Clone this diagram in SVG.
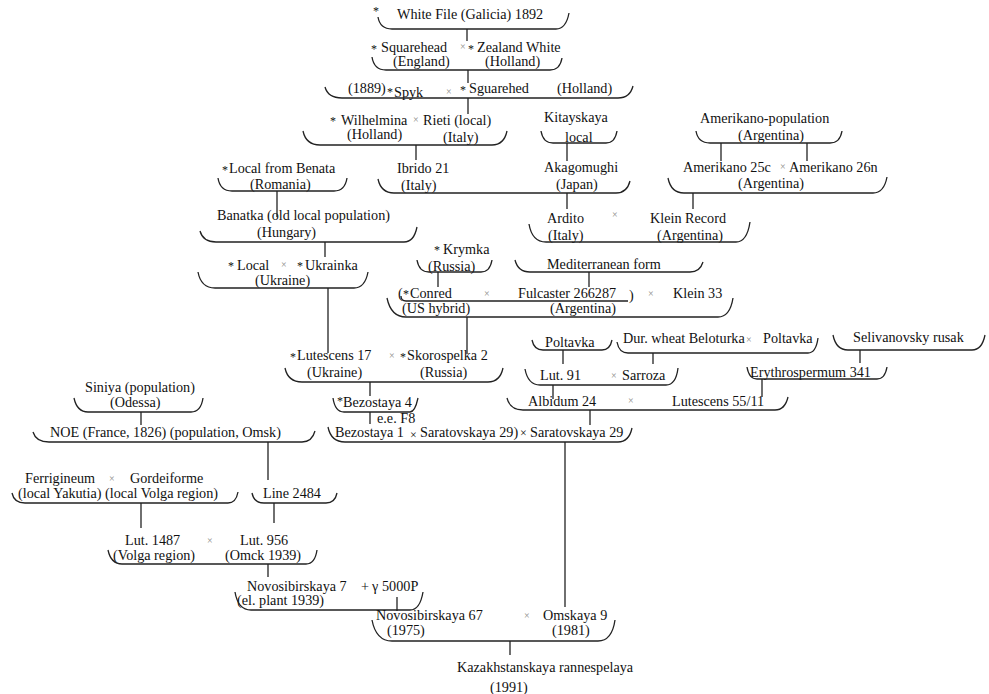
<svg xmlns="http://www.w3.org/2000/svg" width="989" height="694" viewBox="0 0 989 694">
<style>
text{font-family:"Liberation Serif","Times New Roman",serif;font-size:14.2px;fill:#111}
.x{font-size:10px;fill:#888}
.xb{font-size:12px;fill:#111}
.st{font-size:12px}
.br{fill:none;stroke:#222;stroke-width:1.3}
.cn line{stroke:#222;stroke-width:1.3}
</style>
<rect width="989" height="694" fill="#fff"/>

<g id="n-whitefile">
<text class="st" x="373" y="15">*</text><text x="397" y="19">White File (Galicia) 1892</text>
<path class="br" d="M378,17 Q380,29 392,29 L556,29 Q566,29 569,13"/>
</g>
<g id="n-squarehead">
<text class="st" x="371" y="53">*</text><text x="381" y="52">Squarehead</text><text class="x" x="460" y="50">×</text><text class="st" x="468" y="53">*</text><text x="477" y="52">Zealand White</text>
<text x="393" y="66">(England)</text><text x="485" y="66">(Holland)</text>
<path class="br" d="M372,57 Q374,70 386,70 L550,70 Q560,70 562,58"/>
</g>
<g id="n-spyk">
<text x="348" y="93">(1889)</text><text class="st" x="387" y="96">*</text><text x="394" y="97">Spyk</text><text class="x" x="446" y="95">×</text><text class="st" x="460" y="94">*</text><text x="469" y="93">Sguarehed</text><text x="557" y="93">(Holland)</text>
<path class="br" d="M325,87 Q328,98 342,98 L618,98 Q630,98 633,86"/>
</g>
<g id="n-wilhelmina">
<text class="st" x="330" y="125">*</text><text x="341" y="125">Wilhelmina</text><text class="x" x="413" y="123">×</text><text x="423" y="125">Rieti (local)</text>
<text x="347" y="139">(Holland)</text><text x="443" y="142">(Italy)</text>
<path class="br" d="M303,131 Q306,145 320,145 L492,145 Q504,145 507,131"/>
</g>
<g id="n-kitayskaya">
<text x="544" y="122">Kitayskaya</text><text x="565" y="142">local</text>
<path class="br" d="M541,131 Q543,143 553,143 L606,143 Q615,143 617,131"/>
</g>
<g id="n-amerikano-pop">
<text x="700" y="123">Amerikano-population</text><text x="738" y="140">(Argentina)</text>
<path class="br" d="M696,131 Q698,143 710,143 L830,143 Q840,143 842,131"/>
</g>
<g id="n-benata">
<text class="st" x="222" y="174">*</text><text x="229" y="173">Local from Benata</text><text x="250" y="189">(Romania)</text>
<path class="br" d="M218,178 Q220,191 232,191 L334,191 Q345,191 347,178"/>
</g>
<g id="n-ibrido-akagomughi">
<text x="397" y="173">Ibrido 21</text><text x="401" y="190">(Italy)</text>
<text x="544" y="172">Akagomughi</text><text x="556" y="189">(Japan)</text>
<path class="br" d="M378,179 Q381,193 394,193 L616,193 Q627,193 630,181"/>
</g>
<g id="n-amerikano25c">
<text x="683" y="172">Amerikano 25c</text><text class="x" x="780" y="170">×</text><text x="789" y="172">Amerikano 26n</text><text x="738" y="188">(Argentina)</text>
<path class="br" d="M668,178 Q671,193 684,193 L873,193 Q884,193 887,177"/>
</g>
<g id="n-banatka">
<text x="217" y="220">Banatka (old local population)</text><text x="257" y="237">(Hungary)</text>
<path class="br" d="M200,231 Q203,242 216,242 L404,242 Q414,242 417,227"/>
</g>
<g id="n-ardito">
<text x="547" y="223">Ardito</text><text class="x" x="612" y="218">×</text><text x="650" y="223">Klein Record</text>
<text x="548" y="240">(Italy)</text><text x="657" y="240">(Argentina)</text>
<path class="br" d="M529,224 Q532,242 546,242 L736,242 Q747,242 750,222"/>
</g>
<g id="n-local-ukrainka">
<text class="st" x="228" y="270">*</text><text x="237" y="270">Local</text><text class="x" x="281" y="268">×</text><text class="st" x="297" y="270">*</text><text x="305" y="270">Ukrainka</text>
<text x="255" y="285">(Ukraine)</text>
<path class="br" d="M198,272 Q201,288 215,288 L354,288 Q365,288 368,272"/>
</g>
<g id="n-krymka">
<text class="st" x="434" y="254">*</text><text x="443" y="254">Krymka</text><text x="428" y="271">(Russia)</text>
<path class="br" d="M417,260 Q419,272 429,272 L481,272 Q490,272 492,260"/>
</g>
<g id="n-mediterranean">
<text x="547" y="269">Mediterranean form</text>
<path class="br" d="M515,260 Q518,272 530,272 L690,272 Q700,272 703,262"/>
</g>
<g id="n-conred">
<text x="398" y="298">(</text><text class="st" x="403" y="298">*</text><text x="410" y="298">Conred</text><text class="x" x="484" y="297">×</text><text x="518" y="298">Fulcaster 266287</text><text x="629" y="300">)</text><text class="x" x="648" y="297">×</text><text x="673" y="298">Klein 33</text>
<text x="402" y="313">(US hybrid)</text><text x="550" y="313">(Argentina)</text>
<path class="br" d="M401,296 Q401,301 406,301 L628,301"/>
<path class="br" d="M387,298 Q391,317 406,317 L718,317 Q730,317 733,298"/>
</g>
<g id="n-lutescens17">
<text class="st" x="290" y="361">*</text><text x="297" y="360">Lutescens 17</text><text class="x" x="389" y="359">×</text><text class="st" x="400" y="361">*</text><text x="407" y="360">Skorospelka 2</text>
<text x="307" y="377">(Ukraine)</text><text x="420" y="377">(Russia)</text>
<path class="br" d="M285,368 Q288,382 302,382 L488,382 Q500,382 503,368"/>
</g>
<g id="n-poltavka">
<text x="545" y="347">Poltavka</text>
<path class="br" d="M532,340 Q534,350 543,350 L602,350 Q610,350 612,340"/>
</g>
<g id="n-durwheat">
<text x="623" y="343">Dur. wheat Beloturka</text><text class="x" x="746" y="343">×</text><text x="763" y="343">Poltavka</text>
<path class="br" d="M617,342 Q619,353 628,353 L808,353 Q816,353 818,338"/>
</g>
<g id="n-selivanovsky">
<text x="853" y="342">Selivanovsky rusak</text>
<path class="br" d="M833,335 Q836,350 848,350 L972,350 Q982,350 985,335"/>
</g>
<g id="n-lut91">
<text x="540" y="380">Lut. 91</text><text class="x" x="611" y="379">×</text><text x="622" y="380">Sarroza</text>
<path class="br" d="M525,369 Q528,385 540,385 L666,385 Q676,385 678,368"/>
</g>
<g id="n-erythrospermum">
<text x="750" y="377">Erythrospermum 341</text>
<path class="br" d="M747,367 Q749,379 757,379 L877,379 Q885,379 887,367"/>
</g>
<g id="n-siniya">
<text x="85" y="392">Siniya (population)</text><text x="110" y="407">(Odessa)</text>
<path class="br" d="M74,398 Q77,412 88,412 L191,412 Q201,412 203,398"/>
</g>
<g id="n-bezostaya4">
<text class="st" x="337" y="405">*</text><text x="343" y="407">Bezostaya 4</text>
<text x="377" y="423">e.e. F8</text>
<path class="br" d="M333,398 Q335,412 344,412 L410,412 Q415,412 418,398"/>
</g>
<g id="n-albidum">
<text x="528" y="406">Albidum 24</text><text class="x" x="628" y="404">×</text><text x="672" y="406">Lutescens 55/11</text>
<path class="br" d="M507,398 Q510,410 523,410 L775,410 Q785,410 788,397"/>
</g>
<g id="n-noe">
<text x="50" y="437">NOE (France, 1826) (population, Omsk)</text>
<path class="br" d="M33,432 Q36,442 49,442 L302,442 Q312,442 315,431"/>
</g>
<g id="n-bezostaya1">
<text x="335" y="437">Bezostaya 1</text><text class="xb" x="410" y="439">×</text><text x="420" y="437">Saratovskaya 29)</text><text class="xb" x="520" y="437">×</text><text x="530" y="437">Saratovskaya 29</text>
<path class="br" d="M328,427 Q331,442 345,442 L618,442 Q629,442 632,428"/>
</g>
<g id="n-ferrigineum">
<text x="25" y="483">Ferrigineum</text><text class="x" x="109" y="482">×</text><text x="130" y="483">Gordeiforme</text>
<text x="18" y="498">(local Yakutia) (local Volga region)</text>
<path class="br" d="M12,493 Q14,503 25,503 L228,503 Q236,503 238,492"/>
</g>
<g id="n-line2484">
<text x="263" y="498">Line 2484</text>
<path class="br" d="M252,493 Q254,503 264,503 L326,503 Q335,503 337,493"/>
</g>
<g id="n-lut1487">
<text x="125" y="545">Lut. 1487</text><text class="x" x="207" y="544">×</text><text x="240" y="545">Lut. 956</text>
<text x="113" y="560">(Volga region)</text><text x="225" y="560">(Omck 1939)</text>
<path class="br" d="M108,550 Q111,564 122,564 L306,564 Q315,564 317,550"/>
</g>
<g id="n-novosibirskaya7">
<text x="247" y="591">Novosibirskaya 7</text><text x="361" y="591">+</text><text x="372" y="591">γ</text><text x="382" y="591">5000P</text>
<text x="237" y="605">(el. plant 1939)</text>
<path class="br" d="M235,592 Q238,610 251,610 L410,610 Q420,610 423,592"/>
</g>
<g id="n-novosibirskaya67">
<text x="376" y="620">Novosibirskaya 67</text><text class="x" x="524" y="619">×</text><text x="543" y="620">Omskaya 9</text>
<text x="387" y="635">(1975)</text><text x="552" y="635">(1981)</text>
<path class="br" d="M372,620 Q376,641 392,641 L598,641 Q612,641 615,620"/>
</g>
<g id="n-kazakhstanskaya">
<text x="457" y="672">Kazakhstanskaya rannespelaya</text>
<text x="490" y="692">(1991)</text>
</g>

<g id="connectors" class="cn">
<line x1="467" y1="29" x2="467" y2="41"/>
<line x1="468" y1="70" x2="468" y2="83"/>
<line x1="468" y1="98" x2="468" y2="114"/>
<line x1="416" y1="145" x2="416" y2="160"/>
<line x1="567" y1="143" x2="567" y2="161"/>
<line x1="721" y1="143" x2="721" y2="161"/>
<line x1="807" y1="143" x2="807" y2="161"/>
<line x1="277" y1="191" x2="277" y2="217"/>
<line x1="567" y1="193" x2="567" y2="209"/>
<line x1="693" y1="193" x2="693" y2="209"/>
<line x1="325" y1="242" x2="325" y2="257"/>
<line x1="438" y1="272" x2="438" y2="287"/>
<line x1="589" y1="272" x2="589" y2="287"/>
<line x1="328" y1="288" x2="328" y2="353"/>
<line x1="467" y1="317" x2="467" y2="354"/>
<line x1="370" y1="382" x2="370" y2="396"/>
<line x1="563" y1="350" x2="563" y2="364"/>
<line x1="653" y1="353" x2="653" y2="364"/>
<line x1="860" y1="350" x2="860" y2="363"/>
<line x1="553" y1="385" x2="553" y2="399"/>
<line x1="762" y1="379" x2="762" y2="397"/>
<line x1="141" y1="412" x2="141" y2="425"/>
<line x1="370" y1="412" x2="370" y2="424"/>
<line x1="590" y1="410" x2="590" y2="425"/>
<line x1="268" y1="442" x2="268" y2="480"/>
<line x1="565" y1="442" x2="565" y2="607"/>
<line x1="141" y1="503" x2="141" y2="528"/>
<line x1="274" y1="503" x2="274" y2="523"/>
<line x1="268" y1="564" x2="268" y2="577"/>
<line x1="397" y1="597" x2="397" y2="611"/>
<line x1="510" y1="641" x2="510" y2="655"/>
</g>
</svg>
